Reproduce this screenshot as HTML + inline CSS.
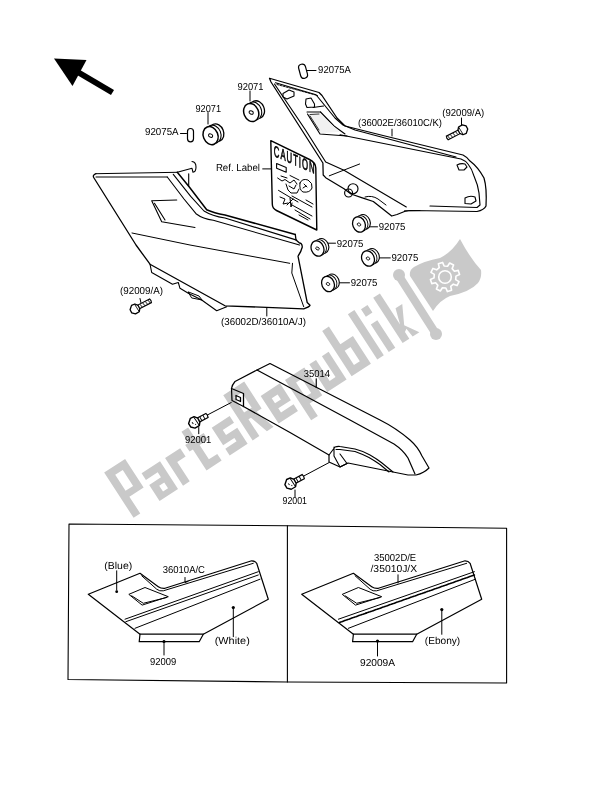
<!DOCTYPE html>
<html><head><meta charset="utf-8">
<style>
html,body{margin:0;padding:0;background:#fff;}
body{width:600px;height:785px;overflow:hidden;position:relative;}
svg{position:absolute;left:0;top:0;will-change:transform;}
text{font-family:"Liberation Sans",sans-serif;}
</style></head>
<body>
<svg width="600" height="785" viewBox="0 0 600 785">
<defs>
  <g id="grom">
    <ellipse cx="6" cy="-3" rx="7" ry="9" transform="rotate(-22 6 -3)" fill="#fff" stroke="#000" stroke-width="1.3"/>
    <ellipse cx="3" cy="-1.5" rx="7.2" ry="9.2" transform="rotate(-22 3 -1.5)" fill="#fff" stroke="#000" stroke-width="1.1"/>
    <ellipse cx="0" cy="0" rx="7.3" ry="9.3" transform="rotate(-22)" fill="#fff" stroke="#000" stroke-width="1.5"/>
    <ellipse cx="0" cy="0" rx="2.2" ry="1.6" transform="rotate(25)" fill="none" stroke="#000" stroke-width="1"/>
  </g>
  <g id="bolt">
    <path d="M4,-2.3 L15,-2.3 L15.5,0 L15,2.3 L4,2.3" fill="#fff" stroke="#000" stroke-width="1.2"/>
    <path d="M8,-2 L8,2 M11.5,-2 L11.5,2" stroke="#000" stroke-width="0.9"/>
    <path d="M-1,-5.3 L3,-5 L5.6,-2 L5.6,2.5 L3.5,5.3 L-1.5,5.5 L-4.8,2.5 L-5,-1.5 Z" fill="#fff" stroke="#000" stroke-width="1.4" stroke-linejoin="round"/>
    <path d="M2.5,-5 L3,0 L3.5,5.3 M-1.5,-1 L-1,1 M0.5,2 L1,3" stroke="#000" stroke-width="0.9" fill="none"/>
  </g>
  <g id="bolt2">
    <path d="M3.5,-2 L18,-2 L18.5,0 L18,2 L3.5,2" fill="#fff" stroke="#000" stroke-width="1.1"/>
    <path d="M7,-1.8 L7.8,1.8 M10,-1.8 L10.8,1.8 M13,-1.8 L13.8,1.8 M16,-1.8 L16.8,1.8" stroke="#000" stroke-width="0.8"/>
    <path d="M-1,-4.6 L2.6,-4.3 L4.8,-1.7 L4.8,2.2 L3,4.6 L-1.3,4.8 L-4.2,2.2 L-4.3,-1.3 Z" fill="#fff" stroke="#000" stroke-width="1.3" stroke-linejoin="round"/>
    <path d="M2.2,-4.3 L2.6,0 L3,4.6" stroke="#000" stroke-width="0.8" fill="none"/>
  </g>
</defs>
<rect width="600" height="785" fill="#fff"/>
<!-- WATERMARK -->
<g id="wm" fill="#c9c9c9">
  <path fill-rule="evenodd" transform="rotate(-33)" d="M-170.0,507.0 L-170.0,453.0 L-145.0,453.0 L-145.0,487.0 L-162.0,487.0 L-162.0,507.0 ZM-162.0,461.0 H-153.0 V480.0 H-162.0 ZM-139.0,474.0 L-117.0,474.0 L-117.0,507.0 L-139.0,507.0 L-139.0,488.0 L-125.0,488.0 L-125.0,482.0 L-139.0,482.0 ZM-131.0,494.0 H-125.0 V501.0 H-131.0 ZM-111.0,507.0 L-111.0,474.0 L-93.0,474.0 L-93.0,484.0 L-103.0,484.0 L-103.0,507.0 ZM-83.0,507.0 L-83.0,482.0 L-87.0,482.0 L-87.0,474.0 L-83.0,474.0 L-83.0,461.0 L-75.0,461.0 L-75.0,474.0 L-65.0,474.0 L-65.0,482.0 L-75.0,482.0 L-75.0,499.0 L-65.0,499.0 L-65.0,507.0 ZM-55.4,474.0 L-34.0,474.0 L-34.0,482.0 L-47.4,482.0 L-47.4,488.0 L-34.0,488.0 L-34.0,507.0 L-55.4,507.0 L-55.4,499.0 L-42.0,499.0 L-42.0,495.0 L-55.4,495.0 ZM-28.0,507.0 L-28.0,453.0 L-3.0,453.0 L-3.0,485.0 L-9.0,485.0 L-3.0,507.0 L-11.0,507.0 L-17.0,487.0 L-20.0,487.0 L-20.0,507.0 ZM-20.0,461.0 H-11.0 V479.0 H-20.0 ZM3.0,507.0 L3.0,474.0 L26.0,474.0 L26.0,494.0 L11.0,494.0 L11.0,499.0 L26.0,499.0 L26.0,507.0 ZM11.0,482.0 H18.0 V488.0 H11.0 ZM32.0,522.0 L32.0,474.0 L55.0,474.0 L55.0,507.0 L40.0,507.0 L40.0,522.0 ZM40.0,482.0 H47.0 V499.0 H40.0 ZM61.0,474.0 L69.0,474.0 L69.0,499.0 L76.0,499.0 L76.0,474.0 L84.0,474.0 L84.0,507.0 L61.0,507.0 ZM90.0,507.0 L90.0,453.0 L98.0,453.0 L98.0,474.0 L113.0,474.0 L113.0,507.0 ZM98.0,482.0 H105.0 V499.0 H98.0 ZM120.6,453.0 H128.4 V507.0 H120.6 ZM134.3,474.0 H142.1 V507.0 H134.3 ZM134.3,456.0 H142.1 V465.0 H134.3 ZM150.8,507.0 L150.8,453.0 L158.8,453.0 L158.8,490.0 L163.8,474.0 L171.8,474.0 L161.8,493.0 L170.8,507.0 L162.8,507.0 L161.8,497.0 L158.8,499.0 L158.8,507.0 Z"/>
  <path d="M460,239 Q470,258 481,270 Q482,278 478,283 Q470,292 450,296 Q440,300 433,311 L410,276 Q409,270 414,267 Q424,261 440,258 Q452,252 460,239 Z"/>
  <path d="M399,276 L436,334" stroke="#c9c9c9" stroke-width="8" stroke-linecap="round"/>
  <circle cx="399" cy="275" r="6"/>
  <circle cx="436" cy="334" r="6"/>
  <g transform="translate(445,277)" fill="none" stroke="#fff" stroke-width="1.6" stroke-linejoin="round">
    <circle r="6.3"/>
    <path d="M-5.75,-9.38 L-6.62,-13.24 L-2.43,-14.60 L-0.86,-10.97 L2.57,-10.70 L4.68,-14.04 L8.60,-12.04 L7.14,-8.36 L9.38,-5.75 L13.24,-6.62 L14.60,-2.43 L10.97,-0.86 L10.70,2.57 L14.04,4.68 L12.04,8.60 L8.36,7.14 L5.75,9.38 L6.62,13.24 L2.43,14.60 L0.86,10.97 L-2.57,10.70 L-4.68,14.04 L-8.60,12.04 L-7.14,8.36 L-9.38,5.75 L-13.24,6.62 L-14.60,2.43 L-10.97,0.86 L-10.70,-2.57 L-14.04,-4.68 L-12.04,-8.60 L-8.36,-7.14 Z"/>
  </g>
</g>
<!-- LINES -->
<g id="lines" fill="none" stroke="#000" stroke-width="1.15" stroke-linejoin="round" stroke-linecap="round">
  <!-- arrow -->
  <path d="M54,58.5 L86.5,60 L72.5,86 Z" fill="#000" stroke="none"/>
  <path d="M76,71 L112.5,92.5" stroke-width="6" stroke-linecap="butt"/>

  <!-- ========== TOP RIGHT COVER ========== -->
  <path d="M269.5,78.25 L319,92.5 L322,95.5 L337,118 L345,126 L385,136 L463,155 Q467,157 470,161 Q478,167 484,178 Q487,188 486,206 Q484,210 477,211.5 L410,210.5 L404.5,211.5 L397,214.5 L391.7,216 L382.5,208.8 L373.3,201.5 L362.3,197.8 L351,194 L344,188.7 L325.7,177.7 L323.2,175 L322.9,163 L301.8,130 L271,82 Z" stroke-width="1.25"/>
  <path d="M275.5,82.75 L316,94.75 L335,118 L343,125 L355,130 L456,157"/>
  <path d="M277,84.5 L317.5,95.5" stroke-width="0.9" stroke-dasharray="2,1.2"/>
  <path d="M274.5,84 L305.5,130 L325.7,162 L344,170.3 L406.3,207"/>
  <path d="M320.5,112 L334,126 L345,134" stroke-width="1.1"/>
  <path d="M340,134.8 L461,159 Q466,161 468,164 Q472,169 474,176 Q478,185 479,193 L480,205 L477,207.5 L430,206"/>
  <path d="M308,115 L320,114 L340,132 L320,133 Z" fill="#f1f1f1" stroke="none"/>
  <path d="M307,112 L320.5,112 M313,107.5 L323.5,106 M307.5,114 L320,134 L347,136"/>
  <path d="M310,116 L319,130 M310,114.5 L319,114" stroke-width="0.8"/>
  <path d="M329.3,175.8 L359.6,164" stroke-width="1"/>
  <!-- bosses -->
  <path d="M283,93.5 L289,90 L294,92 L294,96 L287,99 L283,97 Z" stroke-width="1.1"/>
  <path d="M306,99 L311,98 L314.5,104 L314.5,107 L307,107.5 L305.5,104 Z" stroke-width="1.1"/>
  <path d="M457,165 Q461,163 465,164 L467,167 L464,170 L459,170 Z M465,198 Q470,195 475,197 L476,201 L471,204 L465,203.5 Z" stroke-width="1.1"/>
  <circle cx="348.6" cy="193" r="4"/>
  <ellipse cx="353" cy="188.7" rx="5" ry="5"/>
  <path d="M365,197 Q372,195 378,199 L386,205" stroke-width="1"/>
  <path d="M404.5,210.7 L420,210.5" stroke-width="0.9"/>
  <!-- ========== CAUTION LABEL ========== -->
  <path d="M270.8,140.7 L309.5,159.5 Q315.5,162.5 315.8,168 L316.8,230 L276.5,210.5 Q272.3,208.5 272.3,204 Z" fill="#fff" stroke-width="1.4"/>
  <text x="0" y="0" font-size="15.5" font-family="Liberation Sans" letter-spacing="2.0" stroke="#000" stroke-width="0.7" fill="#000" transform="translate(273.8,156) skewY(23.5) scale(0.5,1)">CAUTION</text>
  <path d="M276.6,163.6 L286.2,167.6 L286.2,172.2 L276.6,168.2 Z" stroke-width="1.1"/>
  <g stroke-width="1">
  <path d="M277.6,178 L282,181 L285,179.5 L290,183 L294,180 L297,184 M281,176 L287,178 M290,175.5 L299,180"/>
  <path d="M300,183 Q302,178 308,180 Q313,183 312,188 Q310,193 303,192 Q299,190 300,183 Z"/>
  <path d="M304,184 L307,187 M303,188 L306,186"/>
  <path d="M286,184 L288,190 L291,193 L297,193 L299,189 M289,186 L294,189 L296,185"/>
  <path d="M278.5,190.4 L298,202 M292,196 L312,207 M306,200 L313,204"/>
  <path d="M280,197 L285,199 L283,204 L288,203 M290,198 L291,207 L292,203 M287,205 L293,199"/>
  <path d="M292,205 L312,216 M295,210 L310,219 M299,215 L308,220"/>
  </g>
  <!-- ========== LEFT SIDE COVER ========== -->
  <path d="M96,173.7 L177.3,172.3 M96,177 L167.3,177" stroke-width="1"/>
  <path d="M96,173.7 Q92,175 94,178 L136,245 L150,264.2 L225,305.8 L303.7,308.8 Q309,307 310,305.3 L307.2,302.5 L298,256.2 Q301,252 302.3,247 Q302,243 299.5,243 L296,240 L295.3,234.5" stroke-width="1.3"/>
  <path d="M167.3,177 L184,199 L196,213.7 Q203,219 213.3,220.3 L299.5,245" stroke-width="1.1"/>
  <path d="M173.3,174.3 L190.7,196.3 L204,211 Q212,216 225,218 L296.7,240.1" stroke-width="1.1"/>
  <path d="M177.3,172.3 L189.3,187 L206.7,209.7 Q214,213 225,215 L295.3,234.5" stroke-width="1.5"/>
  <path d="M177.3,172.3 L192,168.3 M192,161.5 Q196,162 196,167 Q196,172 193,172.3 L192,168.3 M188.7,173.7 L188.7,185.7" stroke-width="1.1"/>
  <path d="M151.7,200.8 L176.7,200 M151.7,200.8 L161.7,221.7 L195,227.5 M154.5,203.3 L165,220" stroke-width="1.1"/>
  <path d="M132,233 L190,245 L289.7,263.3" stroke-width="1"/>
  <path d="M292.5,263.3 L291.8,273 L303.7,306.7" stroke-width="1"/>
  <path d="M150,264.2 L151.7,272.5 L172.5,284.2 L178.3,282.5 L180,288.3 L188.3,293.3 L201.7,300 L216.7,310.8 L226.7,306.7" stroke-width="1.1"/>
  <path d="M188.5,292 L199,296 L202,300 L192,298 Z" stroke-width="1"/>
  <!-- ========== CHAIN COVER 35014 ========== -->
  <path d="M270,363.5 L380,420 Q396,428 410,440 Q418,447 422,456 L429,468 Q424,473 416,475 L408,475 L348,463 L346,464 L340,467 L329,462 L329,455 L290,432.5 L243.5,406.5 L232,400.5 L231.5,388.5 Q232,385 235,381.5 L257,370 Z" stroke-width="1.2"/>
  <path d="M257,370 L350,420 L394,444 Q403,450 408,458 L415,474" stroke-width="1.2"/>
  <path d="M231.5,388.5 L243.5,393.5 L243.5,406.5 M236,395.5 L240.5,397.5 L240.5,401.5 L236,399.5 Z" stroke-width="1.3"/>
  <path d="M329,455 L335,447 Q338,446 340,446.5 L355,449 Q363,451 370,455 Q377,459 382,463 L393,472 M336,449.5 L340,449.5 L355,451.5 Q362,454 369,457.5 Q375,461 380,464.5 L389,472 M334,447 L334,456 L340,467 M340,454 L347,463.5 L340,467" stroke-width="1.1"/>
  <!-- leaders chain -->
  <path d="M316.25,378.75 L316.25,387.5"/>
  <path d="M205,416.25 L231.25,402.5" stroke-width="1"/>
  <path d="M302.5,476.7 L329.2,462.5" stroke-width="1"/>
  <path d="M198.75,427.5 L198.75,433.75" stroke-width="1"/>
  <path d="M295,490 L295,496.7" stroke-width="1"/>

  <!-- leaders misc -->
  <path d="M250,91 L250,101 M208,112.5 L208,124 M180.5,133.5 L186.5,133.5" stroke-width="1"/>
  <path d="M306.5,70.5 L316,70.5" stroke-width="1"/>
  <path d="M262.7,168.9 L271,168.9" stroke-width="1"/>
  <path d="M392,129.2 L392,136" stroke-width="1"/>
  <path d="M461.5,118 L461.5,125" stroke-width="1"/>
  <path d="M140,298.5 L141,303" stroke-width="1"/>
  <path d="M266.8,308 L266.8,316" stroke-width="1"/>
  <path d="M368,226.8 L377.5,226.8 M327.3,243.2 L335.5,243.2 M377.5,257.9 L390.3,257.9 M337.8,282.8 L349.5,282.8" stroke-width="1"/>

  <!-- ========== BOTTOM BOXES ========== -->
  <path d="M69,524 L287,525.7 L506.6,528.2 L506.6,683 L287,682 L68,679.5 Z" stroke-width="1.1"/>
  <path d="M287.4,525.7 L287.4,682" stroke-width="1.1"/>
  <path d="M88.3,594.2 L140.0,573.3 L158.3,586.7 Q161.0,588.6 165.0,588.3 L251.7,560.8 Q255.0,560.8 256.7,563.3 L268.3,599.2 L203.3,634.2 L140.0,634.2 Z" stroke-width="1.2"/>
  <path d="M141.7,575.8 L156.7,589.2 Q159.5,591.5 163.3,590.8 L253.3,563.3" stroke-width="1"/>
  <path d="M140.0,634.2 L139.2,641.7 L199.2,641.7 L203.3,634.2" stroke-width="1.2"/>
  <path d="M129.2,594.2 L145.0,587.5 L168.3,596.7 L142.5,605.0 Z M131.7,595.8 L143.3,603.3 L166.7,597.5" stroke-width="1"/>
  <path d="M125.0,619.2 L258.3,571.7 M125.8,621.7 L258.3,575.0 M135.0,628.3 L260.0,579.2" stroke-width="1"/>
  <circle cx="116.7" cy="591.7" r="1.4" fill="#000" stroke="none"/>
  <circle cx="233.3" cy="607.5" r="1.6" fill="#000" stroke="none"/>
  <circle cx="164" cy="641.5" r="1.6" fill="#000" stroke="none"/>
  <path d="M116.7,570.8 L116.7,590 M233.3,607.5 L233.3,636.7 M164,641 L164,655 M185,577.5 L185,582.5 L188,581.5" stroke-width="1"/>
  <path d="M301.7,594.2 L353.4,573.3 L371.7,586.7 Q374.4,588.6 378.4,588.3 L465.1,560.8 Q468.4,560.8 470.1,563.3 L481.7,599.2 L416.7,634.2 L353.4,634.2 Z" stroke-width="1.2"/>
  <path d="M355.1,575.8 L370.1,589.2 Q372.9,591.5 376.7,590.8 L466.7,563.3" stroke-width="1"/>
  <path d="M353.4,634.2 L352.6,641.7 L412.6,641.7 L416.7,634.2" stroke-width="1.2"/>
  <path d="M342.6,594.2 L358.4,587.5 L381.7,596.7 L355.9,605.0 Z M345.1,595.8 L356.7,603.3 L380.1,597.5" stroke-width="1"/>
  <path d="M338.4,619.2 L474.4,571.7 M348.4,628.3 L475.4,579.2" stroke-width="1"/>
  <path d="M339.4,622.5 L474.4,575.0" stroke-width="1.6" stroke-dasharray="1.5,1"/>
  <circle cx="441.8" cy="609.6" r="1.6" fill="#000" stroke="none"/>
  <circle cx="377.5" cy="641" r="1.6" fill="#000" stroke="none"/>
  <path d="M441.8,609.6 L441.8,634.3 M377.5,641 L377.5,656 M398,574.8 L398,583" stroke-width="1"/>
</g>

<!-- grommets -->
<use href="#grom" transform="translate(251.2,112.5)"/>
<use href="#grom" transform="translate(210.6,135.6)"/>
<use href="#grom" transform="translate(359,224.5) scale(0.85)"/>
<use href="#grom" transform="translate(317.5,248.5) scale(0.85)"/>
<use href="#grom" transform="translate(368,258.5) scale(0.85)"/>
<use href="#grom" transform="translate(328,284) scale(0.85)"/>
<!-- pins 92075A -->
<rect x="187.5" y="128.5" width="6" height="13.3" rx="3" fill="#fff" stroke="#000" stroke-width="1.2"/>
<rect x="299.5" y="64" width="7" height="14.5" rx="3.5" fill="#fff" stroke="#000" stroke-width="1.2" transform="rotate(-15 303 71)"/>
<!-- bolts -->
<use href="#bolt2" transform="translate(463.3,129.75) rotate(153)"/>
<use href="#bolt2" transform="translate(134.5,309) rotate(-27)"/>
<use href="#bolt" transform="translate(193.75,422.5) rotate(-28)"/>
<use href="#bolt" transform="translate(290,483.7) rotate(-28)"/>

<!-- TEXT LABELS -->
<g font-family="Liberation Sans" font-size="10.1" fill="#000" text-rendering="geometricPrecision">
  <text x="237.5" y="90.20" textLength="26" lengthAdjust="spacingAndGlyphs">92071</text>
  <text x="195.5" y="111.70" textLength="25.5" lengthAdjust="spacingAndGlyphs">92071</text>
  <text x="145" y="135.20" textLength="33.6" lengthAdjust="spacingAndGlyphs">92075A</text>
  <text x="318.1" y="73.20" textLength="32.8" lengthAdjust="spacingAndGlyphs">92075A</text>
  <text x="215.9" y="171.20" textLength="44" lengthAdjust="spacingAndGlyphs">Ref. Label</text>
  <text x="358" y="126.20" textLength="84" lengthAdjust="spacingAndGlyphs">(36002E/36010C/K)</text>
  <text x="442.3" y="115.70" textLength="42" lengthAdjust="spacingAndGlyphs">(92009/A)</text>
  <text x="378.7" y="229.70" textLength="26.8" lengthAdjust="spacingAndGlyphs">92075</text>
  <text x="336.7" y="247.00" textLength="26.8" lengthAdjust="spacingAndGlyphs">92075</text>
  <text x="391.5" y="261.00" textLength="26.8" lengthAdjust="spacingAndGlyphs">92075</text>
  <text x="350.7" y="285.50" textLength="26.8" lengthAdjust="spacingAndGlyphs">92075</text>
  <text x="120" y="293.70" textLength="43" lengthAdjust="spacingAndGlyphs">(92009/A)</text>
  <text x="221" y="325.20" textLength="85" lengthAdjust="spacingAndGlyphs">(36002D/36010A/J)</text>
  <text x="303.75" y="376.70" textLength="26.25" lengthAdjust="spacingAndGlyphs">35014</text>
  <text x="185" y="442.95" textLength="26.25" lengthAdjust="spacingAndGlyphs">92001</text>
  <text x="282.5" y="504.20" textLength="24.5" lengthAdjust="spacingAndGlyphs">92001</text>
  <text x="104.3" y="568.70" textLength="28" lengthAdjust="spacingAndGlyphs">(Blue)</text>
  <text x="162.7" y="573.20" textLength="42.3" lengthAdjust="spacingAndGlyphs">36010A/C</text>
  <text x="214.75" y="643.70" textLength="35" lengthAdjust="spacingAndGlyphs">(White)</text>
  <text x="150" y="664.70" textLength="26.25" lengthAdjust="spacingAndGlyphs">92009</text>
  <text x="374" y="561" textLength="42.2" lengthAdjust="spacingAndGlyphs">35002D/E</text>
  <text x="370.5" y="572.3" textLength="46.6" lengthAdjust="spacingAndGlyphs">/35010J/X</text>
  <text x="424.75" y="643.70" textLength="35.5" lengthAdjust="spacingAndGlyphs">(Ebony)</text>
  <text x="360" y="666.45" textLength="35" lengthAdjust="spacingAndGlyphs">92009A</text>
</g>
</svg>
</body></html>
